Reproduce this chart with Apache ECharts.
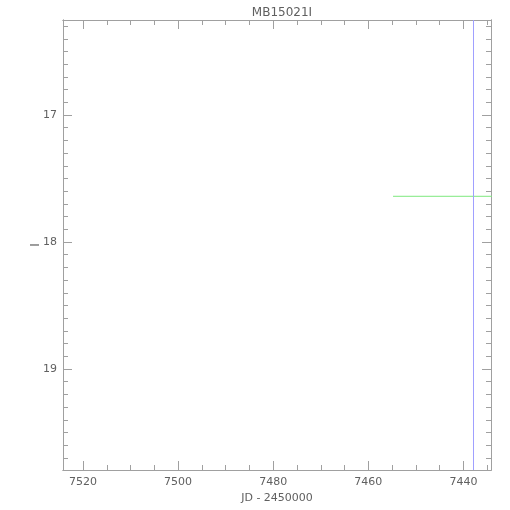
<!DOCTYPE html>
<html>
<head>
<meta charset="utf-8">
<script src="https://cdn.jsdelivr.net/npm/echarts@6/dist/echarts.min.js"></script>
<style>html,body{margin:0;padding:0;background:#fff}#c{width:510px;height:510px}</style>
</head>
<body>
<div id="c"></div>
<script>
var titleText = 'MB15021I';
var xName = 'JD - 2450000';
var yName = 'I';
var xMajor = [7520, 7500, 7480, 7460, 7440];
var xMinor = [7435, 7445, 7450, 7455, 7465, 7470, 7475, 7485, 7490, 7495, 7505, 7510, 7515];
var yMajor = [17, 18, 19];
var yMinor = [16.3,16.4,16.5,16.6,16.7,16.8,16.9,17.1,17.2,17.3,17.4,17.5,17.6,17.7,17.8,17.9,18.1,18.2,18.3,18.4,18.5,18.6,18.7,18.8,18.9,19.1,19.2,19.3,19.4,19.5,19.6,19.7];
var baseX = [7454.8, 7425];
var baseY = [17.64, 17.64];
var markX = 7437.9;
var xMin = 7434.2, xMax = 7524.2;
var yMin = 16.252, yMax = 19.795;

var axCol = '#a0a0a0';
var txtCol = '#606060';
function fmt(v){ return String(v); }
function xa(pos, vals, len, labels) {
  return {type:'value', position:pos, inverse:true, min:xMin, max:xMax,
    axisLine:{show:true, lineStyle:{color:axCol}},
    axisTick:{show:true, inside:true, length:len, customValues:vals, lineStyle:{color:axCol}},
    axisLabel:labels ? {show:true, customValues:vals, formatter:fmt, color:txtCol, fontSize:11, margin:7, fontFamily:'DejaVu Sans'} : {show:false},
    splitLine:{show:false}};
}
function ya(pos, vals, len, labels) {
  return {type:'value', position:pos, inverse:true, min:yMin, max:yMax,
    axisLine:{show:true, lineStyle:{color:axCol}},
    axisTick:{show:true, inside:true, length:len, customValues:vals, lineStyle:{color:axCol}},
    axisLabel:labels ? {show:true, customValues:vals, formatter:fmt, color:txtCol, fontSize:11, margin:6, fontFamily:'DejaVu Sans'} : {show:false},
    splitLine:{show:false}};
}
var xAxes = [xa('bottom', xMajor, 9, true), xa('bottom', xMinor, 5, false), xa('top', xMajor, 9, false), xa('top', xMinor, 5, false)];
xAxes[0].name = xName; xAxes[0].nameLocation = 'middle'; xAxes[0].nameGap = 23; xAxes[0].nameMoveOverlap = false;
xAxes[0].nameTextStyle = {color:txtCol, fontSize:11, fontFamily:'DejaVu Sans'};
var yAxes = [ya('left', yMajor, 9, true), ya('left', yMinor, 5, false), ya('right', yMajor, 9, false), ya('right', yMinor, 5, false)];
yAxes[0].name = yName; yAxes[0].nameLocation = 'middle'; yAxes[0].nameGap = 21; yAxes[0].nameRotate = 90; yAxes[0].nameMoveOverlap = false;
yAxes[0].nameTextStyle = {color:txtCol, fontSize:12, fontFamily:'DejaVu Sans'};

var chart = echarts.init(document.getElementById('c'));
chart.setOption({
  animation:false,
  backgroundColor:'#fff',
  title:{text:titleText, left:277, textAlign:'center', top:2, textStyle:{color:txtCol, fontSize:12, fontWeight:'normal', fontFamily:'DejaVu Sans'}},
  grid:{left:63, right:19, top:20, bottom:40},
  xAxis:xAxes,
  yAxis:yAxes,
  series:[{
    type:'line', xAxisIndex:0, yAxisIndex:0, symbol:'none', clip:true,
    data: baseX.map(function(x,i){return [x, baseY[i]];}),
    lineStyle:{color:'#7ee87e', width:1},
    markLine:{silent:true, symbol:'none', label:{show:false},
      lineStyle:{color:'#a0a0ff', type:'solid', width:1},
      emphasis:{disabled:true},
      data:[{xAxis:markX}]}
  }]
});
</script>
</body>
</html>
